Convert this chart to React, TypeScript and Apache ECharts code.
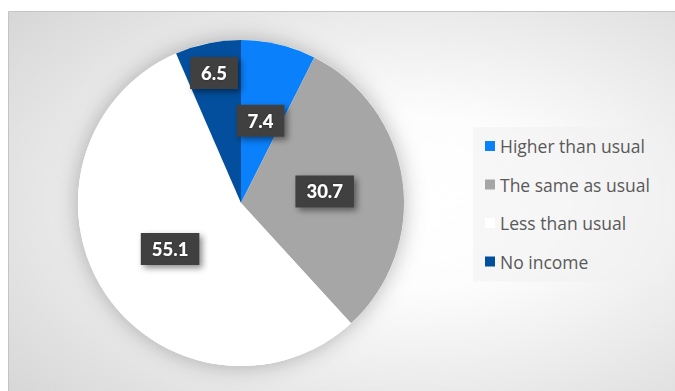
import React, { useEffect, useRef } from "react";
import * as echarts from "echarts";

const categories = ["Higher than usual", "The same as usual", "Less than usual", "No income"];
const values = [7.4, 30.7, 55.1, 6.5];
const colors = ["#0a80fb", "#a6a6a6", "#ffffff", "#034f9d"];

const CX = 241;
const CY = 203;
const R = 163;

export default function App() {
  const ref = useRef<HTMLDivElement>(null);
  useEffect(() => {
    if (!ref.current) return;
    const chart = echarts.init(ref.current, null, { renderer: "svg" });
    const option: any = {
      animation: false,
      graphic: [
        {
          type: "rect",
          silent: true,
          z: -10,
          shape: { x: 8.5, y: 11.5, width: 680, height: 390 },
          style: {
            fill: {
              type: "radial",
              x: 0.59,
              y: 0.49,
              r: 1.0,
              colorStops: [
                { offset: 0, color: "#ffffff" },
                { offset: 0.22, color: "#fdfdfd" },
                { offset: 1, color: "#c6c6c6" },
              ],
            },
            stroke: "#c4c4c4",
            lineWidth: 1,
          },
        },
      ],
      legend: {
        orient: "vertical",
        left: 473,
        top: 127,
        padding: [10, 15, 11, 12],
        backgroundColor: "rgba(240,240,240,0.55)",
        itemWidth: 10,
        itemHeight: 10,
        itemGap: 20.5,
        icon: "rect",
        data: categories,
        textStyle: {
          fontFamily: "Open Sans",
          fontSize: 17.5,
          lineHeight: 18,
          color: "#595959",
        },
      },
      series: [
        {
          type: "pie",
          silent: true,
          center: [CX, CY],
          radius: R,
          z: 1,
          label: { show: false },
          labelLine: { show: false },
          itemStyle: {
            color: "#ffffff",
            shadowBlur: 22,
            shadowColor: "rgba(0,0,0,0.28)",
          },
          data: [{ value: 1, name: "__shadow" }],
        },
        {
          type: "pie",
          center: [CX, CY],
          radius: R,
          startAngle: 90,
          clockwise: true,
          z: 2,
          data: categories.map((name, i) => ({
            name,
            value: values[i],
            itemStyle: { color: colors[i] },
          })),
          label: {
            show: true,
            position: "inside",
            formatter: (p: any) => String(p.value.toFixed(1)),
            fontFamily: "Lato",
            fontWeight: 900,
            fontSize: 18.5,
            color: "#ffffff",
            backgroundColor: "#3f3f3f",
            padding: [7, 11, 6, 11],
            shadowColor: "rgba(0,0,0,0.45)",
            shadowBlur: 6,
            shadowOffsetX: 3,
            shadowOffsetY: 3,
            textShadowColor: "rgba(0,0,0,0.4)",
            textShadowBlur: 2,
          },
          labelLine: { show: false },
          labelLayout: (params: any) => {
            if (params.dataIndex !== 3) return {};
            const r = params.labelRect;
            const lx = r.x + r.width / 2;
            const ly = r.y + r.height / 2;
            return { dx: (lx - CX) * 0.57, dy: (ly - CY) * 0.57 };
          },
        },
      ],
    };
    chart.setOption(option);
    return () => chart.dispose();
  }, []);
  return (
    <div
      style={{ position: "fixed", left: 0, top: 0, width: 675, height: 391, background: "#ffffff" }}
    >
      <div ref={ref} style={{ width: 675, height: 391 }} />
    </div>
  );
}
